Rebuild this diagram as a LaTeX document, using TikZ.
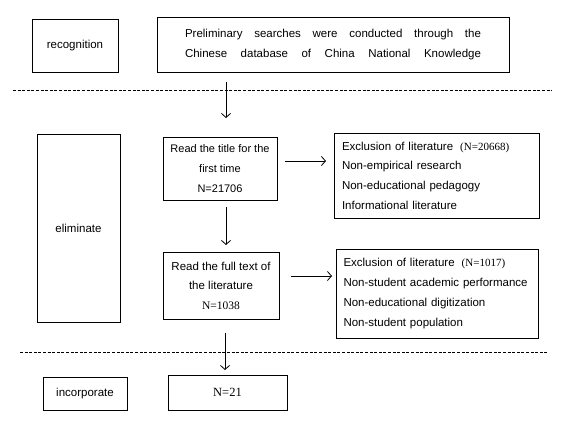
\documentclass[tikz,border=0pt]{standalone}
\usepackage{fontspec}
\setmainfont{Liberation Sans}
\newfontfamily\tnr{Liberation Serif}
\usetikzlibrary{arrows.meta}
\tikzset{
  box/.style={draw, line width=0.9pt, inner sep=0pt, align=center},
  bigtext/.style={font=\fontsize{11.5}{20}\selectfont},
  listbox/.style={draw, line width=0.9pt, inner ysep=0pt, align=left, font=\fontsize{11.5}{19.7}\selectfont},
  arr/.style={line width=0.8pt, -{Straight Barb[length=4pt,width=9pt,line width=0.8pt]}},
  sep/.style={line width=0.7pt, dash pattern=on 3pt off 1.6pt}
}
\begin{document}
\begin{tikzpicture}[x=1pt,y=-1pt]
\useasboundingbox (0,0) rectangle (587,447);
% left stage boxes
\node[box, bigtext, minimum width=86pt, minimum height=53pt] (rec) at (75,45.5) {\raisebox{3pt}{recognition}};
\node[box, bigtext, minimum width=83pt, minimum height=188pt] (elim) at (78.5,228) {eliminate};
\node[box, bigtext, minimum width=84pt, minimum height=33pt] (inc) at (85,393.5) {incorporate};
% main flow
\node[box, bigtext, minimum width=352pt, minimum height=55pt] (pre) at (333,44.5)
  {\raisebox{3.5pt}{\parbox{296pt}{\makebox[296pt][s]{Preliminary searches were conducted through the}\\
   \makebox[296pt][s]{Chinese database of China National Knowledge}}}};
\node[box, font=\fontsize{11}{20}\selectfont, minimum width=114pt, minimum height=63pt] (title) at (220,168.5)
  {Read the title for the\\first time\\N=21706};
\node[listbox, text width=189pt, inner xsep=8pt, minimum height=85pt] (ex1) at (436.5,175.5)
  {Exclusion of literature\hspace{7pt}{\tnr\fontsize{11}{19.7}\selectfont(N=20668)}\\Non-empirical research\\Non-educational pedagogy\\Informational literature};
\node[box, bigtext, font=\fontsize{11.5}{19.5}\selectfont, minimum width=116pt, minimum height=67pt] (full) at (221,285.5)
  {Read the full text of\\the literature\\{\tnr\fontsize{11.5}{19.5}\selectfont N=1038}};
\node[listbox, text width=187pt, inner xsep=7.5pt, minimum height=89pt] (ex2) at (437,293.5)
  {Exclusion of literature\hspace{7pt}{\tnr\fontsize{11}{19.7}\selectfont(N=1017)}\\Non-student academic performance\\Non-educational digitization\\Non-student population};
\node[box, font=\tnr\fontsize{12.5}{14}\selectfont, minimum width=119pt, minimum height=35pt] (n21) at (227.5,392.5) {N=21};
% separators
\draw[sep] (13,90) -- (552,90);
\draw[sep] (20,352) -- (548,352);
% connector ends
\coordinate (a1s) at (226,82);
\coordinate (a1e) at (226,118);
\coordinate (a2s) at (285,161);
\coordinate (a2e) at (326,161);
\coordinate (a3s) at (226,207);
\coordinate (a3e) at (226,245);
\coordinate (a4s) at (291,276);
\coordinate (a4e) at (332,276);
\coordinate (a5s) at (225,333);
\coordinate (a5e) at (225,370);
\draw[arr] (a1s) -- (a1e);
\draw[arr] (a2s) -- (a2e);
\draw[arr] (a3s) -- (a3e);
\draw[arr] (a4s) -- (a4e);
\draw[arr] (a5s) -- (a5e);
\end{tikzpicture}
\end{document}
